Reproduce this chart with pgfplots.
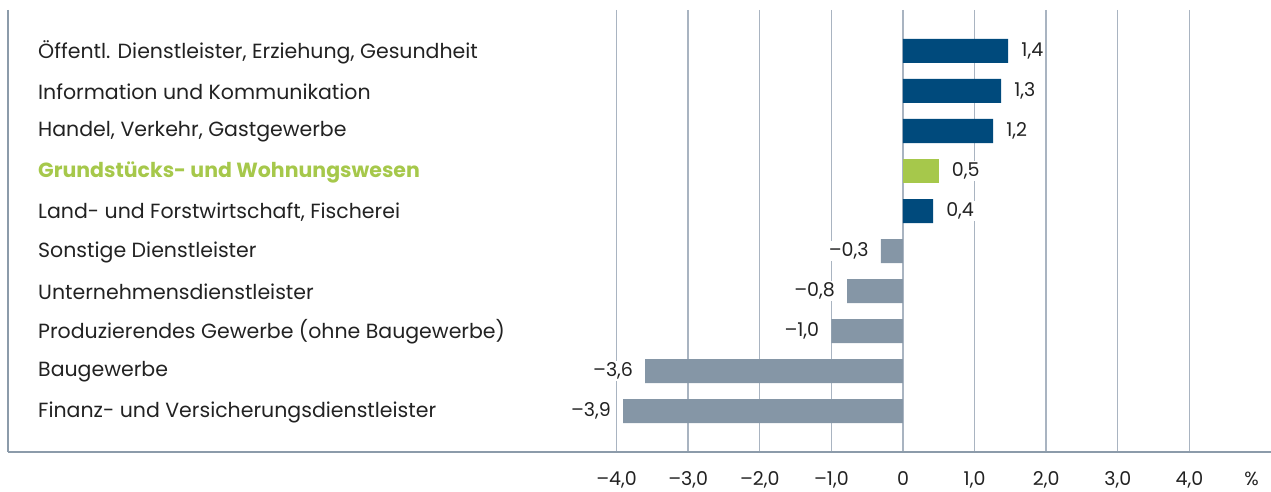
\documentclass[border=0pt]{standalone}
\usepackage{fontspec}
\setmainfont{Poppins}
\usepackage{pgfplots}
\pgfplotsset{compat=1.18}
\definecolor{barblue}{HTML}{004A7C}
\definecolor{bargreen}{HTML}{A6C84B}
\definecolor{bargray}{HTML}{8596A6}
\definecolor{gridgray}{HTML}{A9B4C1}
\definecolor{axisgray}{HTML}{8C9BAA}
\definecolor{txt}{HTML}{222222}

\begin{document}
\fontsize{20}{24}\selectfont
\begin{tikzpicture}
\clip (0,0) rectangle (1271pt,492pt);
\begin{axis}[
  at={(8pt,40pt)},anchor=south west,
  scale only axis,width=1263pt,height=442pt,
  xmin=-12.5,xmax=5.14,ymin=-1.025,ymax=10.025,y dir=reverse,
  xbar,bar width=24pt,bar shift=0pt,
  axis x line*=bottom,axis y line*=left,
  axis line style={-,axisgray,line width=2.5pt},
  xtick={-4,-3,-2,-1,0,1,2,3,4},
  xticklabels={{–4,0},{–3,0},{–2,0},{–1,0},0,{1,0},{2,0},{3,0},{4,0}},
  xticklabel style={font=\fontsize{19}{23}\selectfont,text=txt,anchor=north,yshift=-13pt},
  ytick={0,...,9},
  yticklabels={{Öffentl. Dienstleister, Erziehung, Gesundheit},Information und Kommunikation,{Handel, Verkehr, Gastgewerbe},\textcolor{bargreen}{\bfseries Grundstücks- und Wohnungswesen},{Land- und Forstwirtschaft, Fischerei},Sonstige Dienstleister,Unternehmensdienstleister,Produzierendes Gewerbe (ohne Baugewerbe),Baugewerbe,Finanz- und Versicherungsdienstleister},
  yticklabel style={font=\fontsize{20.5}{24}\selectfont,text=txt,anchor=west,inner sep=0pt,xshift=30pt,yshift=-1pt},
  major tick length=0pt,
  xmajorgrids,grid style={gridgray,line width=1.4pt},
  nodes near coords,point meta=explicit symbolic,
  every node near coord/.append style={font=\fontsize{19}{23}\selectfont,text=txt,fill=white,inner sep=2pt},
  clip=false,
]
\addplot[fill=barblue,draw=none,every node near coord/.append style={anchor=west,xshift=11pt}] table[meta=lab]{
x y lab
1.47 0 1,4
1.37 1 1,3
1.26 2 1,2
0.42 4 0,4
};
\addplot[fill=bargreen,draw=none,every node near coord/.append style={anchor=west,xshift=11pt}] table[meta=lab]{
x y lab
0.50 3 0,5
};
\addplot[fill=bargray,draw=none,every node near coord/.append style={anchor=east,xshift=-10pt}] table[meta=lab]{
x y lab
-0.31 5 –0,3
-0.78 6 –0,8
-1.00 7 –1,0
-3.60 8 –3,6
-3.91 9 –3,9
};
\node[font=\fontsize{19}{23}\selectfont,text=txt,anchor=north] at (axis cs:4.87,10.025) [yshift=-13pt] {\%};
\end{axis}
\end{tikzpicture}
\end{document}
